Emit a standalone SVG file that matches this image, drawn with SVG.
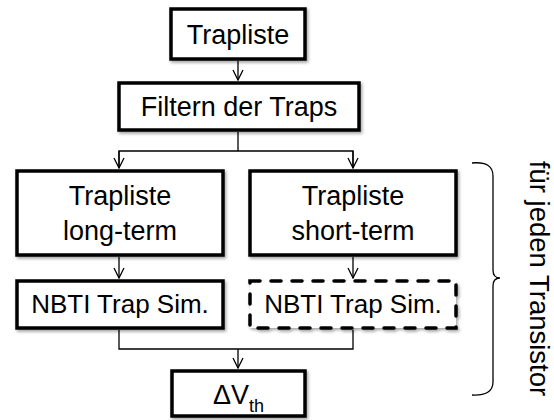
<svg xmlns="http://www.w3.org/2000/svg" width="554" height="420" viewBox="0 0 554 420">
  <style>
    .box { fill: #fff; stroke: #000; stroke-width: 3.5; filter: url(#sh); }
    .dash { stroke-dasharray: 10 11; stroke-linecap: round; }
    .lbl { font-family: "Liberation Sans", Arial, sans-serif; font-size: 27px; fill: #000; text-anchor: middle; }
    .con { fill: none; stroke: #000; stroke-width: 1.3; }
  </style>
  <defs>
    <filter id="sh" x="-10%" y="-10%" width="130%" height="140%">
      <feDropShadow dx="1.5" dy="2" stdDeviation="1.5" flood-color="#000" flood-opacity="0.35"/>
    </filter>
    <marker id="arr" viewBox="0 0 12 12" refX="11" refY="6" markerWidth="12" markerHeight="12" markerUnits="userSpaceOnUse" orient="auto">
      <polyline points="1,1 11,6 1,11" fill="none" stroke="#000" stroke-width="1.3"/>
    </marker>
  </defs>

  <g id="connectors">
    <line class="con" x1="238" y1="61" x2="238" y2="80" marker-end="url(#arr)"/>
    <polyline class="con" points="238,132 238,151"/>
    <polyline class="con" points="119,168 119,151 353,151 353,168"/>
    <line class="con" x1="119" y1="151" x2="119" y2="168" marker-end="url(#arr)"/>
    <line class="con" x1="353" y1="151" x2="353" y2="168" marker-end="url(#arr)"/>
    <line class="con" x1="119" y1="257" x2="119" y2="278" marker-end="url(#arr)"/>
    <line class="con" x1="353" y1="257" x2="353" y2="278" marker-end="url(#arr)"/>
    <polyline class="con" points="119,330 119,349 353,349 353,330"/>
    <line class="con" x1="238" y1="349" x2="238" y2="368" marker-end="url(#arr)"/>
  </g>

  <g id="n-trapliste">
    <rect class="box" x="171" y="9" width="134" height="50"/>
    <text class="lbl" x="238" y="44">Trapliste</text>
  </g>
  <g id="n-filtern">
    <rect class="box" x="119" y="83" width="240" height="47"/>
    <text class="lbl" x="239" y="116">Filtern der Traps</text>
  </g>
  <g id="n-long">
    <rect class="box" x="17" y="171" width="206" height="84"/>
    <text class="lbl" x="120" y="205">Trapliste</text>
    <text class="lbl" x="120" y="240">long-term</text>
  </g>
  <g id="n-short">
    <rect class="box" x="250" y="171" width="206" height="84"/>
    <text class="lbl" x="353" y="205">Trapliste</text>
    <text class="lbl" x="353" y="240">short-term</text>
  </g>
  <g id="n-sim-long">
    <rect class="box" x="17" y="281" width="206" height="47"/>
    <text class="lbl" x="120" y="313" style="font-size:26px">NBTI Trap Sim.</text>
  </g>
  <g id="n-sim-short">
    <rect class="box dash" x="250" y="281" width="206" height="47"/>
    <text class="lbl" x="353" y="313" style="font-size:26px">NBTI Trap Sim.</text>
  </g>
  <g id="n-dvth">
    <rect class="box" x="172" y="371" width="133" height="45"/>
    <text class="lbl" x="238.5" y="404">ΔV<tspan dy="8" style="font-size:18px">th</tspan></text>
  </g>

  <g id="brace">
    <path d="M472,163 Q493,161 493,176 L493,270 Q493,278 500,278 Q493,278 493,286 L493,382 Q493,396 472,395" fill="none" stroke="#000" stroke-width="1.3"/>
    <text class="lbl" transform="translate(530,278.5) rotate(90)" x="0" y="0" style="font-size:27.5px">für jeden Transistor</text>
  </g>
</svg>
